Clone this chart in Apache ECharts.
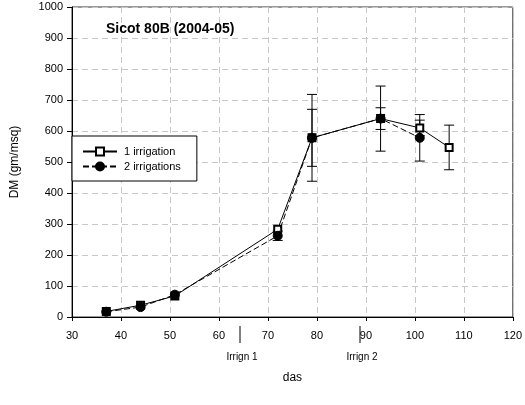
<!DOCTYPE html>
<html><head><meta charset="utf-8">
<script src="https://cdn.jsdelivr.net/npm/echarts@6/dist/echarts.min.js"></script>
<style>html,body{margin:0;padding:0;background:#fff}#c{width:525px;height:405px}</style>
</head><body><div id="c"></div>
<script>
var days1 = [37, 44, 51, 72, 79, 93, 101, 107];
var dm1 = [18, 38, 68, 283, 578, 640, 610, 547];
var err1 = [0, 0, 0, 0, 92, 35, 25, 72];
var days2 = [37, 44, 51, 72, 79, 93, 101];
var dm2 = [17, 32, 72, 262, 578, 640, 578];
var err2 = [0, 0, 0, 15, 140, 105, 75];
var irrigDays = [64.3, 88.8];
var irrigLabels = ['Irrign 1', 'Irrign 2'];
var xTicks = [30, 40, 50, 60, 70, 80, 90, 100, 110, 120];
var yTicks = [0, 100, 200, 300, 400, 500, 600, 700, 800, 900, 1000];
var seriesNames = ['1 irrigation', '2 irrigations'];
var titleText = 'Sicot 80B (2004-05)';

var FONT = 'Liberation Sans, Arial, sans-serif';
function pairs(d, v) { return d.map(function (x, i) { return [x, v[i]]; }); }
function errData(d, v, e) { return d.map(function (x, i) { return [x, v[i] - e[i], v[i] + e[i]]; }).filter(function (r, i) { return e[i] > 0; }); }
function errRender(params, api) {
  var x = api.value(0);
  var lo = api.coord([x, api.value(1)]);
  var hi = api.coord([x, api.value(2)]);
  var w = 5;
  var st = { stroke: '#000', lineWidth: 1 };
  return { type: 'group', children: [
    { type: 'line', shape: { x1: lo[0], y1: lo[1], x2: hi[0], y2: hi[1] }, style: st },
    { type: 'line', shape: { x1: lo[0] - w, y1: lo[1], x2: lo[0] + w, y2: lo[1] }, style: st },
    { type: 'line', shape: { x1: hi[0] - w, y1: hi[1], x2: hi[0] + w, y2: hi[1] }, style: st }
  ]};
}
var chart = echarts.init(document.getElementById('c'), null, { renderer: 'canvas' });
var option = {
  animation: false,
  backgroundColor: '#fff',
  textStyle: { fontFamily: FONT },
  title: { text: titleText, left: 101, top: 17, textStyle: { fontSize: 14, fontWeight: 'bold', color: '#000', fontFamily: FONT } },
  grid: { left: 72, right: 9, top: 7, bottom: 88, show: true, borderColor: '#333', borderWidth: 1, backgroundColor: 'transparent' },
  legend: {
    left: 72, top: 136, orient: 'vertical',
    backgroundColor: '#fff', borderColor: '#000', borderWidth: 1,
    padding: [10, 16, 9, 10], itemGap: 4, itemWidth: 34, itemHeight: 10,
    textStyle: { fontSize: 11, color: '#000', fontFamily: FONT, padding: [0, 0, 0, 2] },
    data: seriesNames
  },
  xAxis: {
    type: 'value', min: 30, max: 120, interval: 10,
    name: 'das', nameLocation: 'middle', nameGap: 55,
    nameTextStyle: { fontSize: 12, color: '#000', fontFamily: FONT },
    axisLine: { lineStyle: { color: '#000' } },
    axisTick: { show: true, length: 4, lineStyle: { color: '#000' } },
    axisLabel: { fontSize: 11, color: '#000', margin: 13, fontFamily: FONT, formatter: function (v) { return xTicks.indexOf(v) >= 0 ? String(v) : ''; } },
    splitLine: { show: true, lineStyle: { color: '#c8c8c8', type: [6, 4] } }
  },
  yAxis: {
    type: 'value', min: 0, max: 1000, interval: 100,
    name: 'DM (gm/msq)', nameLocation: 'middle', nameGap: 51, nameRotate: 90,
    nameTextStyle: { fontSize: 12, color: '#000', fontFamily: FONT },
    axisLine: { show: true, lineStyle: { color: '#000' } },
    axisTick: { show: true, length: 5, lineStyle: { color: '#000' } },
    axisLabel: { fontSize: 11, color: '#000', margin: 9, fontFamily: FONT, formatter: function (v) { return yTicks.indexOf(v) >= 0 ? String(v) : ''; } },
    splitLine: { show: true, lineStyle: { color: '#c8c8c8', type: [6, 4] } }
  },
  series: [
    { type: 'custom', name: 'err1', renderItem: errRender, data: errData(days1, dm1, err1), z: 3, silent: true, encode: { x: 0, y: [1, 2] } },
    { type: 'custom', name: 'err2', renderItem: errRender, data: errData(days2, dm2, err2), z: 3, silent: true, encode: { x: 0, y: [1, 2] } },
    { type: 'line', name: seriesNames[0], data: pairs(days1, dm1), symbol: 'rect', symbolSize: 7,
      itemStyle: { color: '#fff', borderColor: '#000', borderWidth: 2 },
      lineStyle: { color: '#000', width: 1 }, z: 4 },
    { type: 'line', name: seriesNames[1], data: pairs(days2, dm2), symbol: 'circle', symbolSize: 9,
      itemStyle: { color: '#000', borderColor: '#000', borderWidth: 1 },
      lineStyle: { color: '#000', width: 1, type: [6, 3] }, z: 5 }
  ]
};
chart.setOption(option);
var gfx = [];
irrigDays.forEach(function (d, i) {
  var p = chart.convertToPixel({ gridIndex: 0 }, [d, 0]);
  gfx.push({ type: 'line', shape: { x1: p[0], y1: p[1] + 9, x2: p[0], y2: p[1] + 26 }, style: { stroke: '#000', lineWidth: 1 } });
  gfx.push({ type: 'text', x: p[0] + 2, y: p[1] + 35, style: { text: irrigLabels[i], fontSize: 10, fill: '#000', align: 'center', verticalAlign: 'top', fontFamily: FONT } });
});
chart.setOption({ graphic: gfx });
</script></body></html>
